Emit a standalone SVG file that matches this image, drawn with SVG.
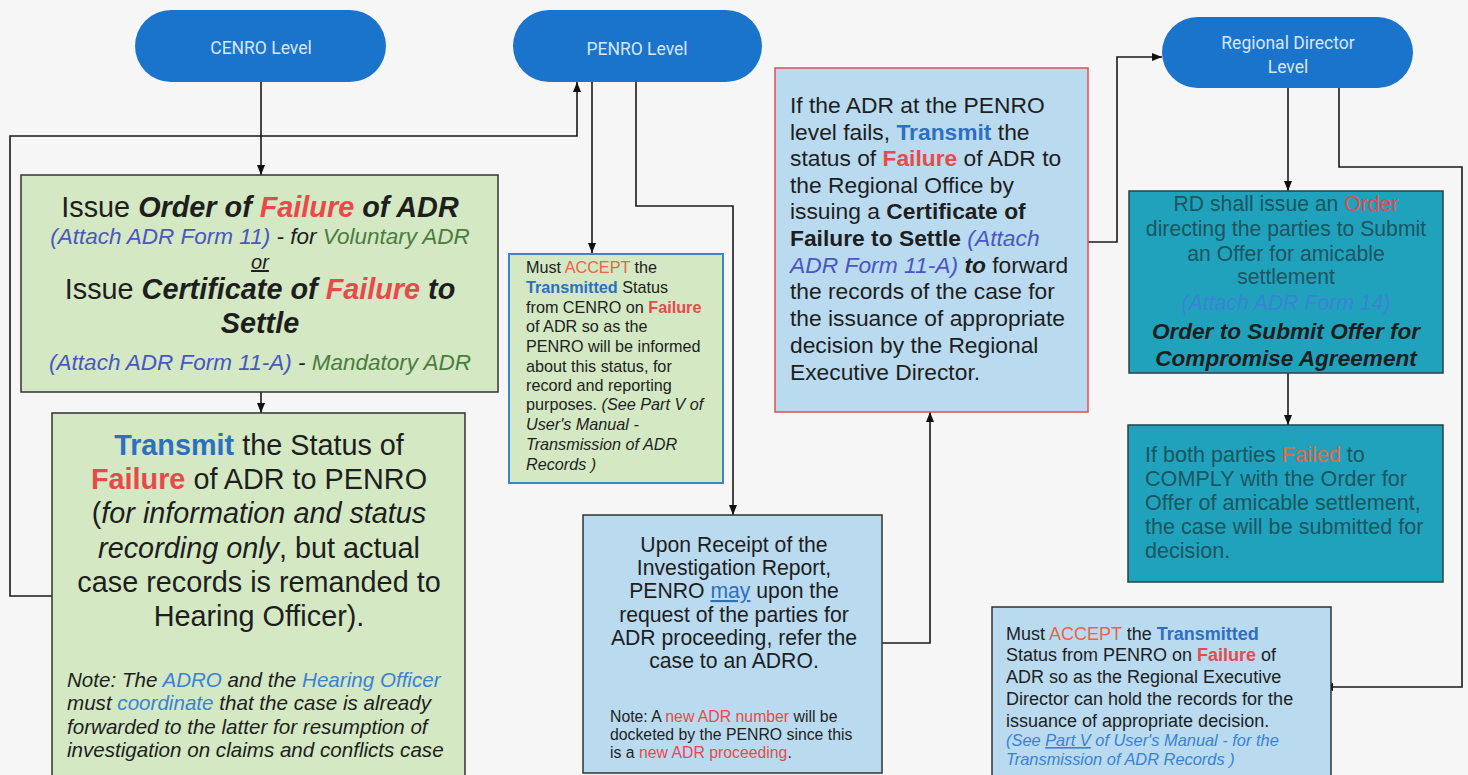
<svg xmlns="http://www.w3.org/2000/svg" width="1468" height="775" viewBox="0 0 1468 775">
<style>
text{font-family:"Liberation Sans",Arial,sans-serif;fill:#1e1e1e}
.pill{fill:#1b74cc}
.pt{font-family:Roboto,"Liberation Sans",sans-serif;font-size:17.5px;fill:#d6e6f6;text-anchor:middle}
.green{fill:#d3e8c3;stroke:#333;stroke-width:1.5}
.lblue{fill:#b9daef;stroke:#333;stroke-width:1.5}
.teal{fill:#20a2bc;stroke:#24434a;stroke-width:1.5}
.bi{font-weight:bold;font-style:italic}
.i{font-style:italic}
.bd{font-weight:bold}
.red{fill:#e84a4c}
.org{fill:#ea6446}
.blu{fill:#2f6fc2}
.pur{fill:#4a56c2}
.grn{fill:#4a7d3e}
.lb{fill:#3a82d6}
.tt{fill:#1d5560}
.c{text-anchor:middle}
.conn{fill:none;stroke:#1a1a1a;stroke-width:1.6}
</style>
<defs>
<marker id="ah" viewBox="0 0 10 10" refX="10" refY="5" markerWidth="10" markerHeight="10" markerUnits="userSpaceOnUse" orient="auto">
<path d="M0,1 L10,5 L0,9 z" fill="#111"/>
</marker>
</defs>
<rect x="0" y="0" width="1468" height="775" fill="#f6f6f6"/>

<g id="connectors">
<path class="conn" d="M261,82 V175" marker-end="url(#ah)"/>
<path class="conn" d="M261,392 V413" marker-end="url(#ah)"/>
<path class="conn" d="M52,596 H10 V136 H577 V82" marker-end="url(#ah)"/>
<path class="conn" d="M592,82 V253" marker-end="url(#ah)"/>
<path class="conn" d="M636,82 V206 H733 V515" marker-end="url(#ah)"/>
<path class="conn" d="M882,643 H930 V412" marker-end="url(#ah)"/>
<path class="conn" d="M1088,242 H1117 V57 H1162" marker-end="url(#ah)"/>
<path class="conn" d="M1288,88 V191" marker-end="url(#ah)"/>
<path class="conn" d="M1288,373 V425" marker-end="url(#ah)"/>
<path class="conn" d="M1339,88 V167 H1462 V687 H1323" marker-end="url(#ah)"/>
</g>

<g id="cenro-level">
<rect class="pill" x="135" y="10" width="251" height="72" rx="36"/>
<text class="pt" x="261" y="54">CENRO Level</text>
</g>

<g id="penro-level">
<rect class="pill" x="513" y="10" width="249" height="72" rx="36"/>
<text class="pt" x="637" y="55">PENRO Level</text>
</g>

<g id="rd-level">
<rect class="pill" x="1162" y="17" width="251" height="71" rx="35.5"/>
<text class="pt" x="1288" y="49">Regional Director</text>
<text class="pt" x="1288" y="73">Level</text>
</g>

<g id="cenro-issue-order">
<rect class="green" x="21" y="175" width="477" height="217"/>
<text class="c" x="260" y="217" font-size="28.8">Issue <tspan class="bi">Order of </tspan><tspan class="bi red">Failure</tspan><tspan class="bi"> of ADR</tspan></text>
<text class="c i" x="260" y="244" font-size="22.5"><tspan class="pur">(Attach ADR Form 11)</tspan> - for <tspan class="grn">Voluntary ADR</tspan></text>
<text class="c i" x="260" y="269" font-size="20" text-decoration="underline">or</text>
<text class="c" x="260" y="299" font-size="28.8">Issue <tspan class="bi">Certificate of </tspan><tspan class="bi red">Failure</tspan><tspan class="bi"> to</tspan></text>
<text class="c bi" x="260" y="333" font-size="28.8">Settle</text>
<text class="c i" x="260" y="370" font-size="22.5"><tspan class="pur">(Attach ADR Form 11-A)</tspan> - <tspan class="grn">Mandatory ADR</tspan></text>
</g>

<g id="cenro-transmit">
<rect class="green" x="52" y="413" width="413" height="370"/>
<text class="c" x="259" y="455" font-size="28.8"><tspan class="bd blu">Transmit</tspan> the Status of</text>
<text class="c" x="259" y="489" font-size="28.8"><tspan class="bd red">Failure</tspan> of ADR to PENRO</text>
<text class="c" x="259" y="523" font-size="28.8">(<tspan class="i">for information and status</tspan></text>
<text class="c" x="259" y="558" font-size="28.8"><tspan class="i">recording only</tspan>, but actual</text>
<text class="c" x="259" y="592" font-size="28.8">case records is remanded to</text>
<text class="c" x="259" y="626" font-size="28.8">Hearing Officer).</text>
<text class="i" x="67" y="687" font-size="20.6">Note: The <tspan class="lb">ADRO</tspan> and the <tspan class="lb">Hearing Officer</tspan></text>
<text class="i" x="67" y="710" font-size="20.6">must <tspan class="lb">coordinate</tspan> that the case is already</text>
<text class="i" x="67" y="734" font-size="20.6">forwarded to the latter for resumption of</text>
<text class="i" x="67" y="757" font-size="20.6">investigation on claims and conflicts case</text>
</g>

<g id="penro-accept">
<rect x="509" y="254" width="214" height="229" fill="#d3e8c3" stroke="#3d85c6" stroke-width="2"/>
<text x="526" y="273" font-size="16.2">Must <tspan class="org">ACCEPT</tspan> the</text>
<text x="526" y="293" font-size="16.2"><tspan class="bd blu">Transmitted</tspan> Status</text>
<text x="526" y="313" font-size="16.2">from CENRO on <tspan class="bd red">Failure</tspan></text>
<text x="526" y="332" font-size="16.2">of ADR so as the</text>
<text x="526" y="352" font-size="16.2">PENRO will be informed</text>
<text x="526" y="372" font-size="16.2">about this status, for</text>
<text x="526" y="391" font-size="16.2">record and reporting</text>
<text x="526" y="410" font-size="16.2">purposes. <tspan class="i">(See Part V of</tspan></text>
<text class="i" x="526" y="430" font-size="16.2">User's Manual -</text>
<text class="i" x="526" y="450" font-size="16.2">Transmission of ADR</text>
<text class="i" x="526" y="470" font-size="16.2">Records )</text>
</g>

<g id="penro-receipt">
<rect class="lblue" x="583" y="515" width="299" height="258"/>
<text class="c" x="734" y="552" font-size="21.2">Upon Receipt of the</text>
<text class="c" x="734" y="575" font-size="21.2">Investigation Report,</text>
<text class="c" x="734" y="598" font-size="21.2">PENRO <tspan class="blu" text-decoration="underline">may</tspan> upon the</text>
<text class="c" x="734" y="622" font-size="21.2">request of the parties for</text>
<text class="c" x="734" y="645" font-size="21.2">ADR proceeding, refer the</text>
<text class="c" x="734" y="668" font-size="21.2">case to an ADRO.</text>
<text x="610" y="722" font-size="15.8">Note:  A <tspan class="red">new ADR number</tspan> will be</text>
<text x="610" y="740" font-size="15.8">docketed  by the PENRO since this</text>
<text x="610" y="758" font-size="15.8">is a <tspan class="red">new ADR proceeding</tspan>.</text>
</g>

<g id="penro-fail">
<rect x="775" y="68" width="313" height="344" fill="#b9daef" stroke="#e05858" stroke-width="1.6"/>
<text x="790" y="113" font-size="22.8">If the ADR at the PENRO</text>
<text x="790" y="140" font-size="22.8">level fails, <tspan class="bd blu">Transmit</tspan> the</text>
<text x="790" y="166" font-size="22.8">status of <tspan class="bd red">Failure</tspan> of ADR to</text>
<text x="790" y="193" font-size="22.8">the Regional Office by</text>
<text x="790" y="219" font-size="22.8">issuing a <tspan class="bd">Certificate of</tspan></text>
<text x="790" y="246" font-size="22.8"><tspan class="bd">Failure to Settle</tspan> <tspan class="i pur">(Attach</tspan></text>
<text x="790" y="273" font-size="22.8"><tspan class="i pur">ADR Form 11-A)</tspan> <tspan class="bi">to</tspan> forward</text>
<text x="790" y="299" font-size="22.8">the records of the case for</text>
<text x="790" y="326" font-size="22.8">the issuance of appropriate</text>
<text x="790" y="353" font-size="22.8">decision by the Regional</text>
<text x="790" y="380" font-size="22.8">Executive Director.</text>
</g>

<g id="rd-order">
<rect class="teal" x="1129" y="191" width="314" height="182"/>
<text class="c tt" x="1286" y="211" font-size="21.2">RD shall issue an <tspan class="red">Order</tspan></text>
<text class="c tt" x="1286" y="236" font-size="21.2">directing the parties to Submit</text>
<text class="c tt" x="1286" y="261" font-size="21.2">an Offer for amicable</text>
<text class="c tt" x="1286" y="284" font-size="21.2">settlement</text>
<text class="c i lb" x="1286" y="310" font-size="21.2">(Attach ADR Form 14)</text>
<text class="c bi" x="1286" y="339" font-size="22.6">Order to Submit Offer for</text>
<text class="c bi" x="1286" y="366" font-size="22.6">Compromise Agreement</text>
</g>

<g id="rd-failed">
<rect class="teal" x="1128" y="425" width="315" height="157"/>
<text class="tt" x="1145" y="462" font-size="21.6">If both parties <tspan class="org">Failed</tspan> to</text>
<text class="tt" x="1145" y="486" font-size="21.6">COMPLY with the Order for</text>
<text class="tt" x="1145" y="510" font-size="21.6">Offer of amicable settlement,</text>
<text class="tt" x="1145" y="534" font-size="21.6">the case will be submitted for</text>
<text class="tt" x="1145" y="558" font-size="21.6">decision.</text>
</g>

<g id="rd-accept">
<rect class="lblue" x="992" y="607" width="339" height="175"/>
<text x="1006" y="640" font-size="18">Must <tspan class="org">ACCEPT</tspan> the  <tspan class="bd blu">Transmitted</tspan></text>
<text x="1006" y="661" font-size="18">Status from PENRO on <tspan class="bd red">Failure</tspan> of</text>
<text x="1006" y="683" font-size="18">ADR so as the Regional Executive</text>
<text x="1006" y="705" font-size="18">Director can hold the records for the</text>
<text x="1006" y="727" font-size="18">issuance of appropriate decision.</text>
<text class="i lb" x="1006" y="746" font-size="16.4">(See <tspan text-decoration="underline">Part V</tspan> of User's Manual -  for the</text>
<text class="i lb" x="1006" y="765" font-size="16.4">Transmission of ADR Records )</text>
</g>
</svg>
